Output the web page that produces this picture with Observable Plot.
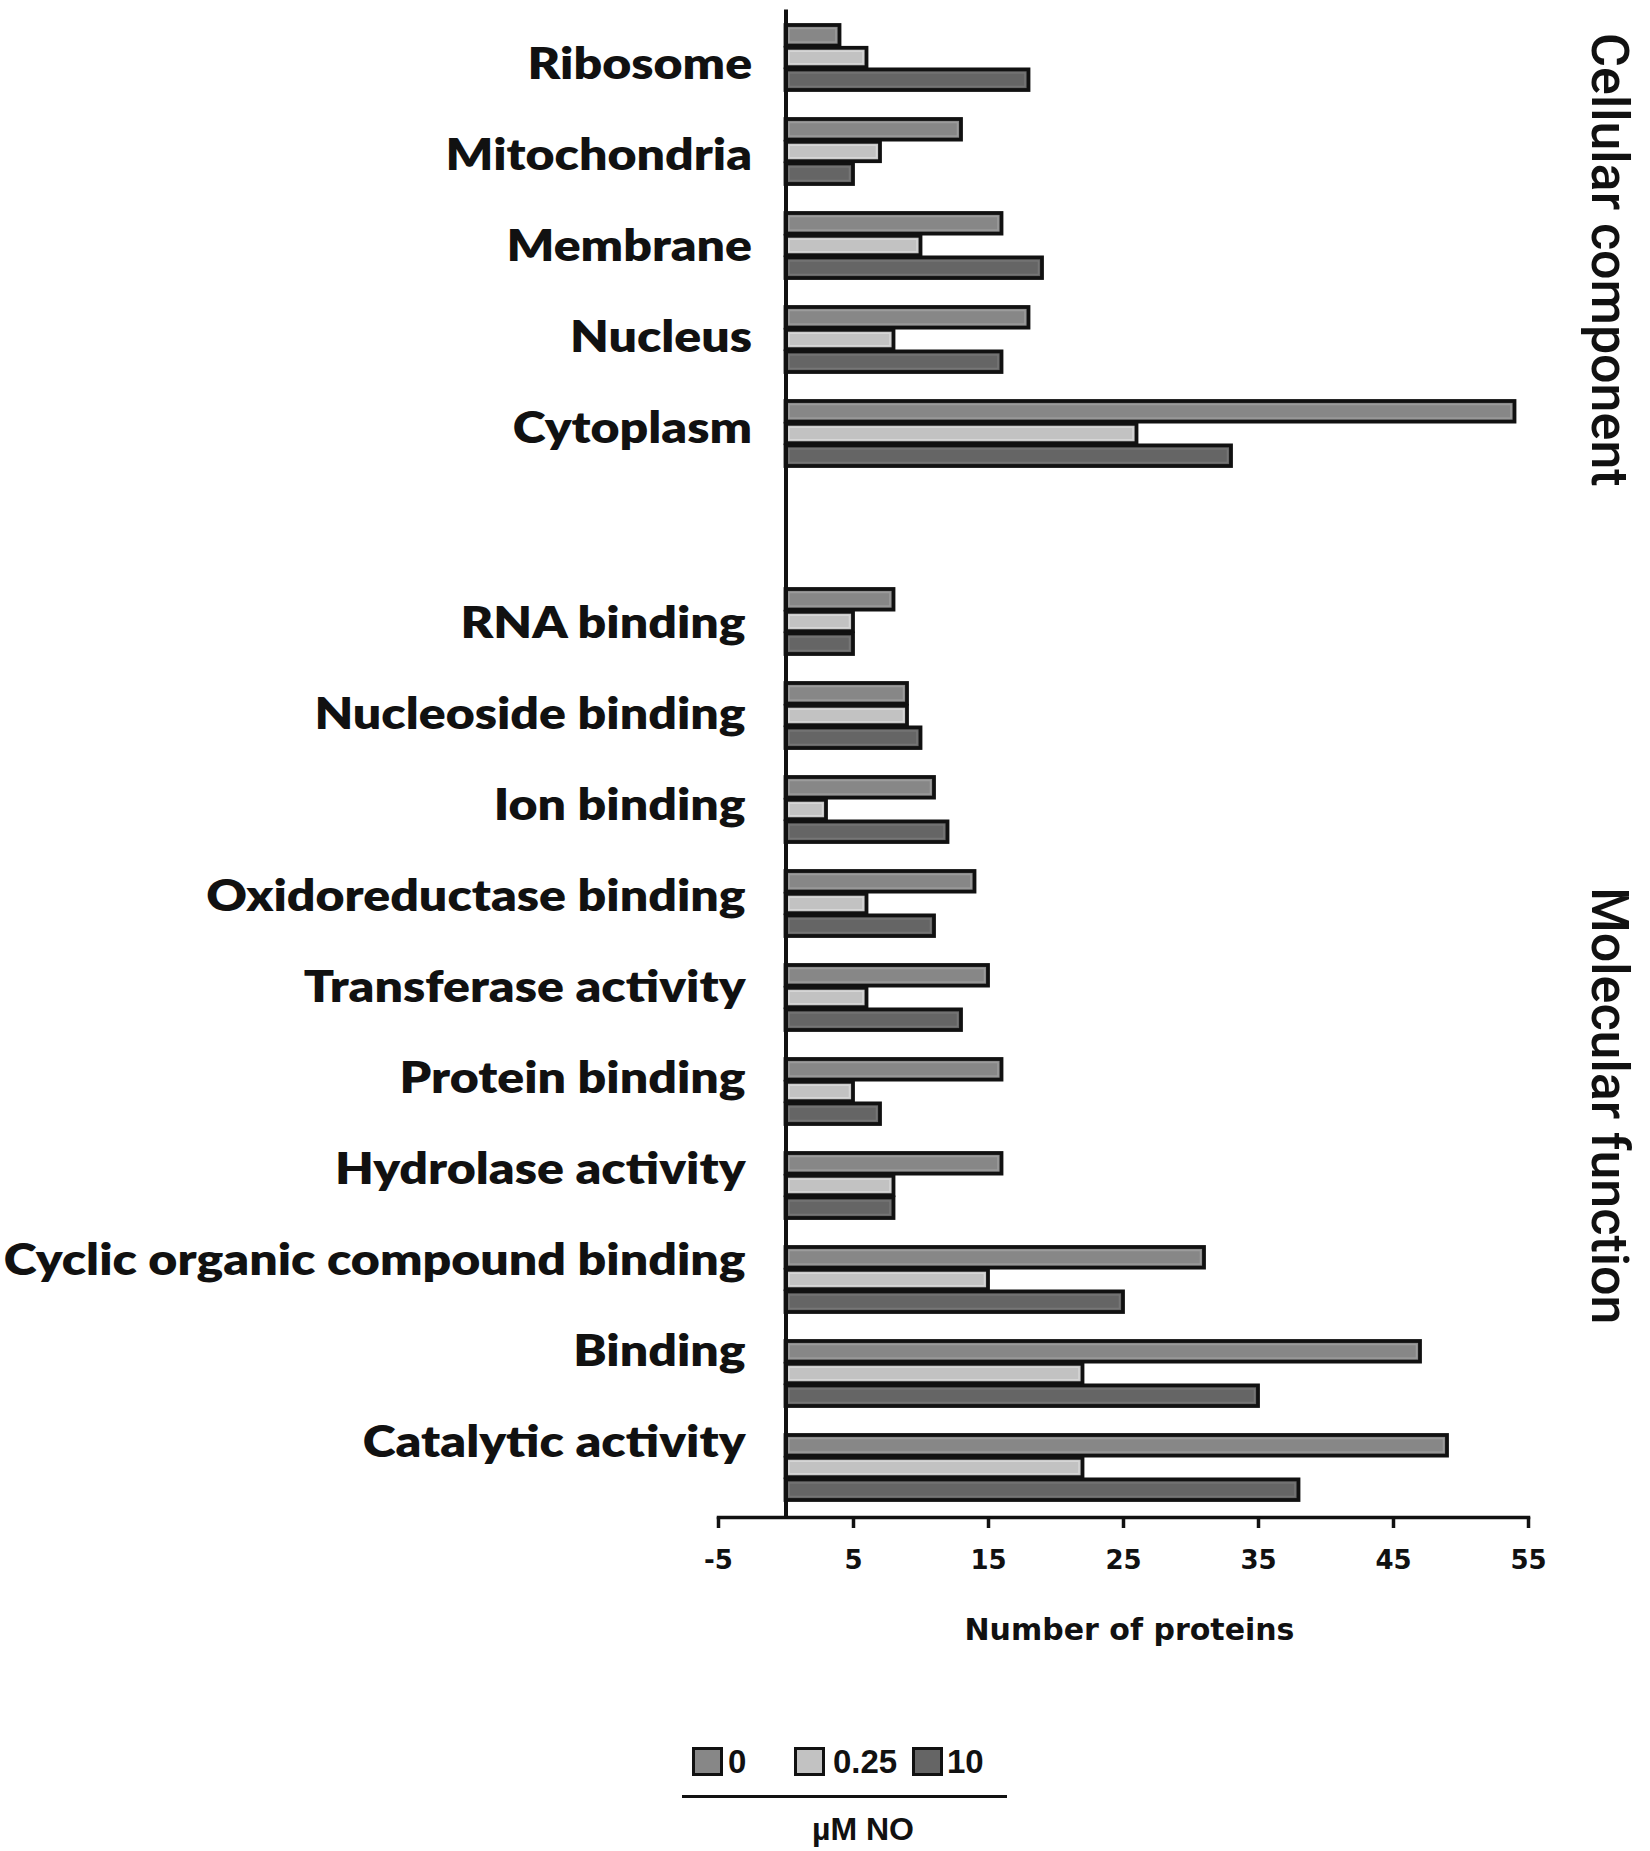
<!DOCTYPE html>
<html>
<head>
<meta charset="utf-8">
<script src="https://cdn.jsdelivr.net/npm/d3@7"></script>
<script src="https://cdn.jsdelivr.net/npm/@observablehq/plot@0.6"></script>
<style>
  html, body { margin: 0; padding: 0; background: #fff; }
  #wrap { position: relative; width: 1650px; height: 1851px; overflow: hidden; background: #fff; color: #111; }
  .sw { position: absolute; box-sizing: border-box; border: 3px solid #111; }
  .lt { position: absolute; font-family: "Liberation Sans", Arial, sans-serif; font-weight: bold; font-size: 33px; line-height: 29px; color: #111; white-space: nowrap; }
</style>
</head>
<body>
<div id="wrap"></div>
<script>
// ---------------- data ----------------
const categoriesCC = ["Ribosome", "Mitochondria", "Membrane", "Nucleus", "Cytoplasm"];
const categoriesMF = ["RNA binding", "Nucleoside binding", "Ion binding", "Oxidoreductase binding",
  "Transferase activity", "Protein binding", "Hydrolase activity",
  "Cyclic organic compound binding", "Binding", "Catalytic activity"];
const seriesNames = ["0", "0.25", "10"];
// values in order: categoriesCC then categoriesMF
const values0   = [4, 13, 16, 18, 54,   8, 9, 11, 14, 15, 16, 16, 31, 47, 49];
const values025 = [6,  7, 10,  8, 26,   5, 9,  3,  6,  6,  5,  8, 15, 22, 22];
const values10  = [18, 5, 19, 16, 33,   5, 10, 12, 11, 13, 7,  8, 25, 35, 38];
const xTicks = [-5, 5, 15, 25, 35, 45, 55];
const xDomain = [-5, 55];
const groupTitles = ["Cellular component", "Molecular function"];
const xLabel = "Number of proteins";
const legendTitle = "µM NO";
const seriesColors = ["#878787", "#c2c2c2", "#656565"];
const seriesHighlights = ["#9c9c9c", "#d6d6d6", "#767676"];

// ---------------- build table ----------------
const spacer = " ";
const yDomain = [...categoriesCC, spacer, ...categoriesMF];
const cats = [...categoriesCC, ...categoriesMF];
const seriesValues = [values0, values025, values10];
const rows = seriesNames.map((s, k) => cats.map((c, i) => ({category: c, series: s, value: seriesValues[k][i]})));

// ---------------- layout ----------------
const W = 1650, H = 1700;
const mT = 9.4, axisBottom = 1517, mL = 718, mR = 122;
const mB = H - axisBottom;
const pIn = 0.3116, pOut = 0.164, alignY = 0.461;
const step = (axisBottom - mT) / (yDomain.length - pIn + 2 * pOut);
const bw = step * (1 - pIn);
const sub = bw / 3;
const gap = 1.2;
const insT = k => k * sub + (k > 0 ? gap : 0);
const insB = k => (2 - k) * sub + (k < 2 ? gap : 0);

const wrap = document.getElementById("wrap");

const main = Plot.plot({
  width: W, height: H,
  marginTop: mT, marginBottom: mB, marginLeft: mL, marginRight: mR,
  x: {domain: xDomain},
  y: {type: "band", domain: yDomain, paddingInner: pIn, paddingOuter: pOut, align: alignY, axis: null},
  style: {background: "white", color: "#111", overflow: "visible"},
  marks: [
    ...rows.map((data, k) => Plot.barX(data, {
      x: "value", y: "category", fill: seriesColors[k], stroke: "#111", strokeWidth: 3.8,
      insetTop: insT(k), insetBottom: insB(k)
    })),
    ...rows.map((data, k) => Plot.barX(data, {
      x: "value", y: "category", fill: "none", stroke: seriesHighlights[k], strokeWidth: 1.5,
      insetTop: insT(k) + 3.5, insetBottom: insB(k) + 3.5, insetLeft: 3.5, insetRight: 3.5
    })),
    Plot.ruleX([0], {stroke: "#111", strokeWidth: 4}),
    Plot.frame({anchor: "bottom", stroke: "#111", strokeWidth: 3.5}),
    Plot.axisX(xTicks, {
      tickSize: 11, tickPadding: 22, strokeWidth: 3.5, tickFormat: d => String(d),
      fontFamily: "DejaVu Sans", fontWeight: "bold", fontSize: 26, label: null
    }),
    Plot.text([xLabel], {
      text: d => d, frameAnchor: "bottom", textAnchor: "middle", lineAnchor: "middle",
      dx: 6, dy: 113, fontFamily: "DejaVu Sans", fontWeight: "bold", fontSize: 30
    }),
    Plot.text([groupTitles[0]], {
      text: d => d, frameAnchor: "top-right", textAnchor: "middle", lineAnchor: "middle",
      rotate: 90, dx: 80, dy: 250, fontFamily: "Roboto", fontWeight: 500, fontSize: 52
    }),
    Plot.text([groupTitles[1]], {
      text: d => d, frameAnchor: "top-right", textAnchor: "middle", lineAnchor: "middle",
      rotate: 90, dx: 80, dy: 1096, fontFamily: "Roboto", fontWeight: 500, fontSize: 52
    })
  ]
});
main.style.position = "absolute";
main.style.left = "0px";
main.style.top = "0px";
wrap.appendChild(main);

// ---------------- category labels (own band scale, horizontally stretched like the source) ----------------
const labelFont = 42.5;
const labelWeight = 800;
const ctx = document.createElement("canvas").getContext("2d");
ctx.font = `${labelWeight} ${labelFont}px Lato`;
const measured = ctx.measureText(categoriesMF[7]).width || 640;
const k = 742 / measured;
const axisX0 = 785;

const labels = Plot.plot({
  width: axisX0 + 5, height: H,
  marginTop: 0, marginBottom: 0, marginLeft: axisX0, marginRight: 5,
  y: {type: "band", domain: yDomain, range: [19.3, 19.3 + 91 * yDomain.length], paddingInner: 0, paddingOuter: 0},
  style: {background: "transparent", color: "#111", overflow: "visible"},
  marks: [
    Plot.axisY(categoriesCC, {
      anchor: "left", tickSize: 0, tickPadding: 33.5 / k, label: null,
      fontFamily: "Lato", fontWeight: labelWeight, fontSize: labelFont
    }),
    Plot.axisY(categoriesMF, {
      anchor: "left", tickSize: 0, tickPadding: 40 / k, dy: 13.7, label: null,
      fontFamily: "Lato", fontWeight: labelWeight, fontSize: labelFont
    })
  ]
});
labels.style.position = "absolute";
labels.style.left = "0px";
labels.style.top = "0px";
labels.style.pointerEvents = "none";
labels.style.maxWidth = "none";
labels.style.transformOrigin = `${axisX0}px 0px`;
labels.style.transform = `scaleX(${k})`;
wrap.appendChild(labels);

// ---------------- legend ----------------
const legendRowTop = 1747;
const legendItems = [{sw: 692, tx: 728}, {sw: 794, tx: 833}, {sw: 912, tx: 947}];
seriesNames.forEach((s, i) => {
  const sw = document.createElement("div");
  sw.className = "sw";
  sw.style.left = legendItems[i].sw + "px";
  sw.style.top = legendRowTop + "px";
  sw.style.width = "31px";
  sw.style.height = "29px";
  sw.style.background = seriesColors[i];
  wrap.appendChild(sw);
  const t = document.createElement("div");
  t.className = "lt";
  t.style.left = legendItems[i].tx + "px";
  t.style.top = legendRowTop + "px";
  t.textContent = s;
  wrap.appendChild(t);
});
const line = document.createElement("div");
line.style.cssText = "position:absolute;left:682px;top:1795px;width:325px;height:3px;background:#111;";
wrap.appendChild(line);
const lt = document.createElement("div");
lt.className = "lt";
lt.style.cssText += "left:763px;top:1813px;width:200px;text-align:center;font-size:32px;line-height:32px;";
lt.textContent = legendTitle;
wrap.appendChild(lt);
</script>
</body>
</html>
